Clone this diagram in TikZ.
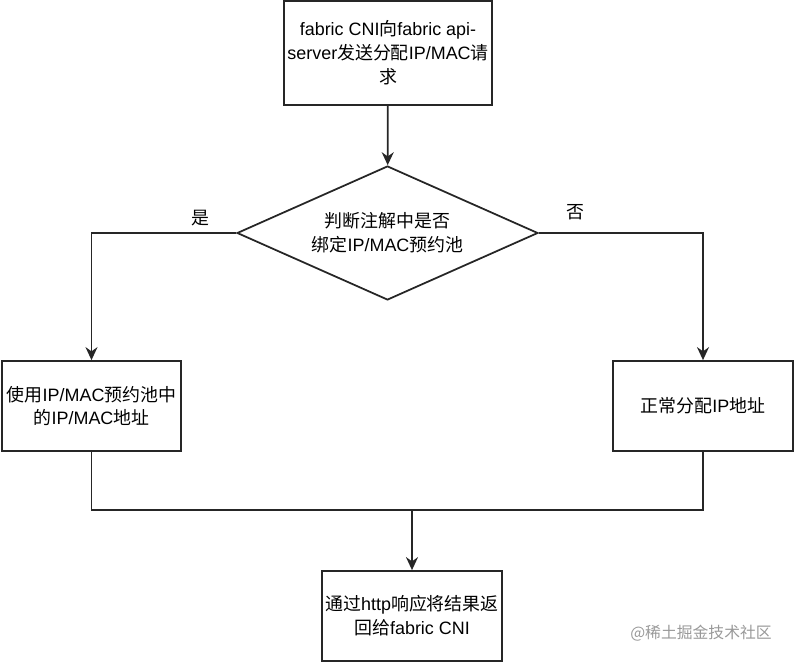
\documentclass[tikz,border=0pt]{standalone}
\usepackage{fontspec}
\setmainfont{Liberation Sans}
\newfontfamily\cjk{Noto Sans CJK SC}
\usetikzlibrary{shapes.geometric,arrows.meta}

\tikzset{
  box/.style={draw=black!85,line width=1pt,fill=white,align=center,inner sep=0pt},
  decision/.style={diamond,draw=black!85,line width=1pt,fill=white,align=center,inner sep=0pt,
    shape aspect=2.25,minimum width=6.02cm,minimum height=2.68cm},
  arr/.style={draw=black!85,line width=1pt,-{Stealth[length=2.6mm,width=2.4mm]}},
  line/.style={draw=black!85,line width=1pt},
  lbl/.style={inner sep=0pt}
}

\begin{document}
\begin{tikzpicture}
[x=0.02cm,y=-0.02cm,font=\fontsize{10.2}{13.6}\selectfont]
\useasboundingbox (0,0) rectangle (794,662);
\node[box,minimum width=4.16cm,minimum height=2.08cm] (req) at (388,53)
  {fabric CNI{\cjk 向}fabric api-\\server{\cjk 发送分配}IP/MAC{\cjk 请}\\{\cjk 求}};
\node[decision] (dec) at (387.5,233) {{\cjk 判断注解中是否}\\{\cjk 绑定}IP/MAC{\cjk 预约池}};
\node[box,minimum width=3.58cm,minimum height=1.8cm] (pool) at (91.5,406)
  {{\cjk 使用}IP/MAC{\cjk 预约池中}\\{\cjk 的}IP/MAC{\cjk 地址}};
\node[box,minimum width=3.6cm,minimum height=1.8cm] (normal) at (703,406)
  {{\cjk 正常分配}IP{\cjk 地址}};
\node[box,minimum width=3.6cm,minimum height=1.8cm] (resp) at (412,616)
  {{\cjk 通过}http{\cjk 响应将结果返}\\{\cjk 回给}fabric CNI};
\coordinate (join) at (412,510);
\node[lbl] (yes) at (200,218) {\cjk 是};
\node[lbl] (no) at (575,212) {\cjk 否};
\node[lbl,text=black!40,font=\fontsize{9}{11}\selectfont] (mark) at (701,633) {\cjk @稀土掘金技术社区};

\draw[arr] (req) -- (dec);
\draw[arr] (dec.west) -| (pool);
\draw[arr] (dec.east) -| (normal);
\draw[line] (pool.south) |- (join);
\draw[line] (normal.south) |- (join);
\draw[arr] (join) -- (resp);
\end{tikzpicture}
\end{document}
